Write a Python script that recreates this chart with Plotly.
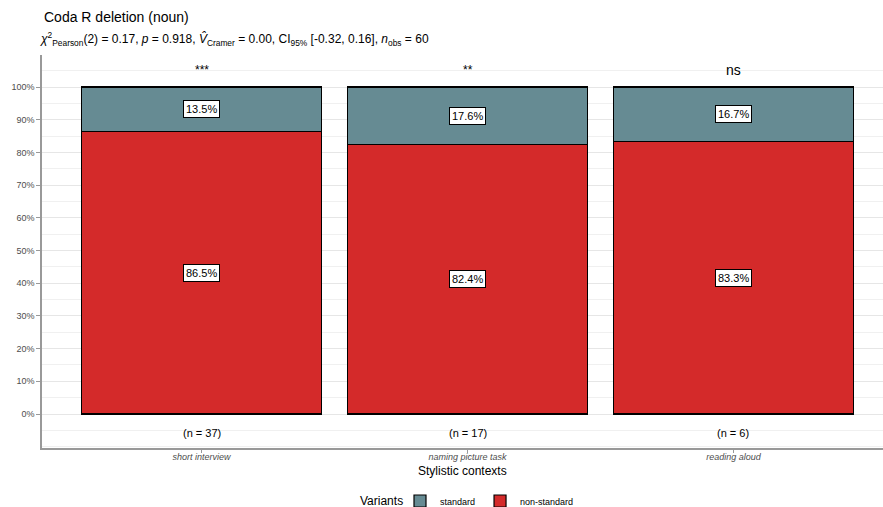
import plotly.graph_objects as go

categories = ["short interview", "naming picture task", "reading aloud"]
non_standard = [0.865, 0.824, 0.833]
standard = [0.135, 0.176, 0.167]
n_labels = ["(n = 37)", "(n = 17)", "(n = 6)"]
signif = ["***", "**", "ns"]
y_ticks = [i / 10 for i in range(11)]
y_ticktext = [f"{i*10}%" for i in range(11)]

RED = "#D42A2A"
GREY = "#668B93"

W, H = 883, 507
L, R, T, B = 42, 0, 55, 59
plot_h = H - T - B
plot_w = W - L - R
xs = [1, 2, 3]

fig = go.Figure()
fig.add_trace(go.Bar(x=xs, y=non_standard, name="non-standard", marker=dict(color=RED, line=dict(color="black", width=1.2)), width=0.9))
fig.add_trace(go.Bar(x=xs, y=standard, name="standard", marker=dict(color=GREY, line=dict(color="black", width=1.2)), width=0.9))

FONT = "Liberation Sans, Arial"
ann = []
for i, x in enumerate(xs):
    ann.append(dict(x=x, y=non_standard[i] + standard[i] / 2, xref="x", yref="y", text=f"{standard[i]*100:.1f}%",
                    showarrow=False, bgcolor="white", bordercolor="black", borderwidth=1, borderpad=2,
                    font=dict(size=11, color="black", family=FONT)))
    ann.append(dict(x=x, y=non_standard[i] / 2, xref="x", yref="y", text=f"{non_standard[i]*100:.1f}%",
                    showarrow=False, bgcolor="white", bordercolor="black", borderwidth=1, borderpad=2,
                    font=dict(size=11, color="black", family=FONT)))
    ann.append(dict(x=x, y=-0.058, xref="x", yref="y", text=n_labels[i], showarrow=False,
                    font=dict(size=11, color="black", family=FONT)))
    ann.append(dict(x=x, y=1.052, xref="x", yref="y", text=signif[i], showarrow=False,
                    font=dict(size=14 if signif[i] == "ns" else 12, color="black", family=FONT)))

ann.append(dict(x=0, y=1 + (T - 17) / plot_h, xref="paper", yref="paper", xanchor="left", yanchor="middle",
                text="Coda R deletion (noun)", showarrow=False,
                font=dict(size=14, color="black", family=FONT)))
ann.append(dict(x=-0.005, y=1 + (T - 39) / plot_h, xref="paper", yref="paper", xanchor="left", yanchor="middle",
                text="<i>χ</i><sup>2</sup><sub>Pearson</sub>(2) = 0.17, <i>p</i> = 0.918, <i>V̂</i><sub>Cramer</sub> = 0.00, CI<sub>95%</sub> [-0.32, 0.16], <i>n</i><sub>obs</sub> = 60",
                showarrow=False, font=dict(size=12, color="black", family=FONT)))
ann.append(dict(x=(462 - L) / plot_w, y=-(471 - (H - B)) / plot_h, xref="paper", yref="paper",
                xanchor="center", yanchor="middle", text="Stylistic contexts", showarrow=False,
                font=dict(size=12, color="black", family=FONT)))
ann.append(dict(x=(405 - L) / plot_w, y=-(501 - (H - B)) / plot_h, xref="paper", yref="paper",
                xanchor="right", yanchor="middle", text="Variants", showarrow=False,
                font=dict(size=12, color="black", family=FONT)))

fig.update_layout(
    width=W, height=H, margin=dict(l=L, r=R, t=T, b=B, autoexpand=False),
    barmode="stack", bargap=0.1,
    plot_bgcolor="white", paper_bgcolor="white",
    font=dict(family=FONT, color="#4d4d4d"),
    annotations=ann,
    legend=dict(orientation="h", xref="paper", x=(400 - L) / plot_w, xanchor="left",
                yref="container", y=(H - 501) / H, yanchor="middle", valign="middle",
                traceorder="reversed", font=dict(size=9, color="black"), itemwidth=30),
)
fig.update_xaxes(range=[0.4, 3.6 - 10 / 266], tickvals=xs, ticktext=[f"<i>{c}</i>" for c in categories],
                 showline=True, linecolor="#999999", linewidth=1.5, ticks="outside", ticklen=3, tickcolor="#999999",
                 ticklabelstandoff=-4,
                 tickfont=dict(size=9, color="#4d4d4d"), showgrid=False, zeroline=False, automargin=False)
fig.update_yaxes(range=[-0.104, 1.098], tickvals=y_ticks, ticktext=y_ticktext,
                 showline=True, linecolor="#999999", linewidth=1.5, ticks="outside", ticklen=4, tickcolor="#999999",
                 tickfont=dict(size=9, color="#4d4d4d"), showgrid=True, gridcolor="#e6e6e6", gridwidth=1,
                 minor=dict(dtick=0.05, tick0=0, showgrid=True, gridcolor="#f0f0f0", gridwidth=1),
                 zeroline=False, automargin=False)

fig.write_html("out.html")
